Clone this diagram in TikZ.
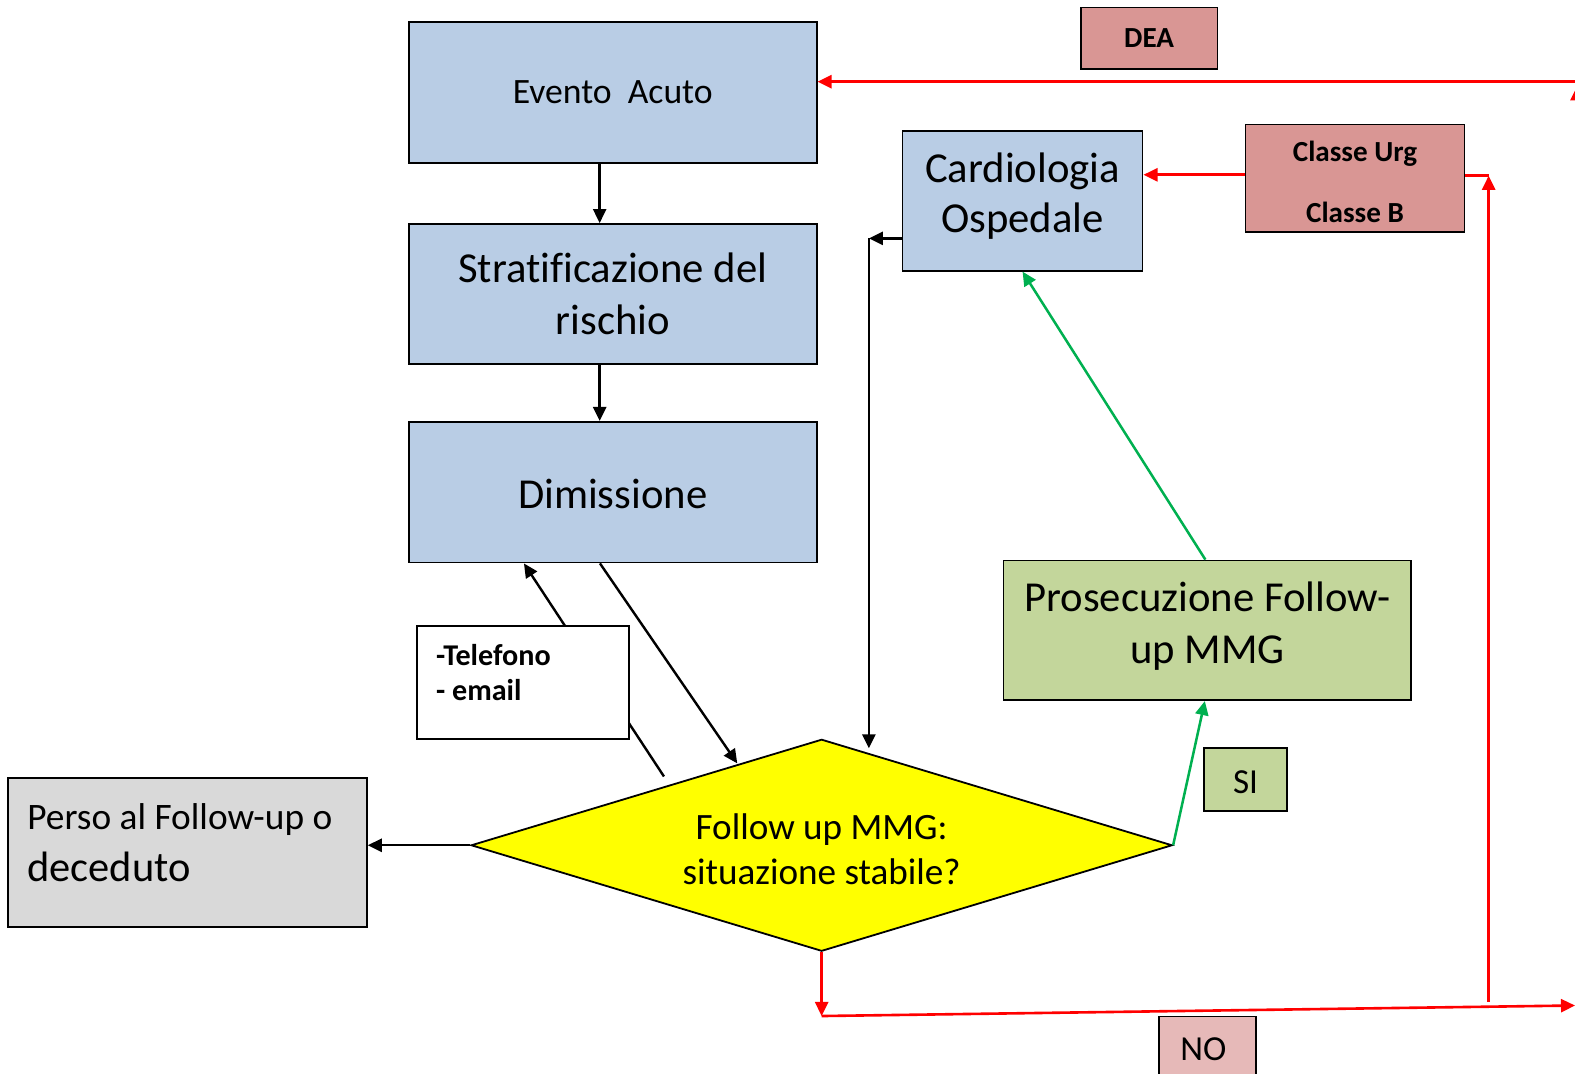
\documentclass[tikz,border=0pt]{standalone}
\usepackage{fontspec}
\setmainfont{Carlito}[Ligatures=CommonOff]
\usetikzlibrary{arrows.meta,shapes.geometric,calc}
\definecolor{blueF}{HTML}{B9CDE5}
\definecolor{pinkF}{HTML}{D99694}
\definecolor{noF}{HTML}{E6B9B8}
\definecolor{greenF}{HTML}{C3D69B}
\definecolor{greyF}{HTML}{D9D9D9}
\definecolor{yelF}{HTML}{FFFF00}
\definecolor{lineG}{HTML}{00B050}
\definecolor{lineR}{HTML}{FF0000}
\begin{document}
\begin{tikzpicture}[x=1pt,y=-1pt,
  box/.style={draw=black,line width=1.8pt,rectangle,inner sep=0pt,align=center},
  bluebox/.style={box,fill=blueF},
  pinkbox/.style={box,fill=pinkF},
  greenbox/.style={box,fill=greenF},
  bigtxt/.style={font=\fontsize{42.5}{51}\selectfont,align=center},
  midtxt/.style={font=\fontsize{35.5}{44}\selectfont},
  boldtxt/.style={font=\bfseries\fontsize{29}{34}\selectfont},
  tip/.style={-{Triangle[length=14pt,width=13pt]}},
  blk/.style={draw=black,line width=2.4pt,tip},
  redc/.style={draw=lineR,line width=2.6pt,tip},
  redl/.style={draw=lineR,line width=2.6pt},
  grn/.style={draw=lineG,line width=2.5pt,tip}
]
\useasboundingbox (0,0) rectangle (1568,1069);

% main column
\node[bluebox,minimum width=406,minimum height=140,midtxt] (ev) at (610,92) {Evento~ Acuto};
\node[bluebox,minimum width=406,minimum height=139,bigtxt] (st) at (610,292.5) {Stratificazione del\\rischio};
\node[bluebox,minimum width=406,minimum height=140] (dim) at (610,490) {};
\node[bigtxt] (dimt) at ([yshift=-2pt]dim.center) {Dimissione};

% right part
\node[bluebox,minimum width=239,minimum height=139] (card) at (1018,200) {};
\node[font=\fontsize{42.5}{50}\selectfont,align=center] (cardt) at ([yshift=5pt]card.center) {Cardiologia\\Ospedale};
\node[pinkbox,minimum width=136,minimum height=61,boldtxt] (dea) at (1144,38) {DEA};
\node[pinkbox,minimum width=218,minimum height=107] (cl) at (1349,177.5) {};
\node[boldtxt,anchor=base] (cl1) at (1349,160.3) {Classe Urg};
\node[boldtxt,anchor=base] (cl2) at (1349,221.5) {Classe B};
\node[greenbox,minimum width=406,minimum height=139] (pros) at (1202,627.5) {};
\node[font=\fontsize{42.5}{52}\selectfont,align=center] (prost) at ([yshift=4pt]pros.center) {Prosecuzione Follow-\\up MMG};
\node[greenbox,minimum width=82,minimum height=62] (si) at (1240,776) {};
\node[font=\fontsize{35}{40}\selectfont] (sit) at ([yshift=-3pt]si.center) {SI};
\node[box,fill=noF,minimum width=96,minimum height=66] (no) at (1202,1045) {};
\node[font=\fontsize{35}{40}\selectfont] (not) at ([xshift=-4pt]no.center) {NO};

% decision
\node[diamond,draw=black,line width=1.8pt,fill=yelF,inner sep=0pt,shape aspect=3.3,
      minimum width=698,minimum height=211] (dia) at (818,841.5) {};
\node[font=\fontsize{37}{44}\selectfont,align=center] (diat) at ([yshift=-4pt]dia.center) {Follow up MMG:\\situazione stabile?};

% lost / dead
\node[box,fill=greyF,minimum width=357,minimum height=148] (perso) at (186.7,848.7) {};
\node[anchor=base west,font=\fontsize{37.2}{44}\selectfont,inner sep=0pt] (p1) at (27,826) {Perso al Follow-up o};
\node[anchor=base west,font=\fontsize{42.3}{50}\selectfont,inner sep=0pt] (p2) at (27,877.5) {deceduto};

% black connectors
\draw[blk] ([xshift=-13pt]ev.south) -- ([xshift=-13pt]st.north);
\draw[blk] ([xshift=-13pt]st.south) -- ([xshift=-13pt]dim.north);
\coordinate (dtip) at (734,760);
\draw[blk] ([xshift=-12.7pt]dim.south) -- (dtip);
\coordinate (telstart) at (661,773);
\draw[blk] (telstart) -- ([xshift=-88.4pt]dim.south);

% telefono box (covers the line)
\node[box,fill=white,minimum width=211,minimum height=112] (tel) at (520.3,679.3) {};
\node[anchor=base west,font=\bfseries\fontsize{30}{34}\selectfont,inner sep=0pt] (t1) at (434,663) {-Telefono};
\node[anchor=base west,font=\bfseries\fontsize{30}{34}\selectfont,inner sep=0pt] (t2) at (434,697) {- email};

\draw[blk] (dia.west) -- (dia.west -| perso.east);

\coordinate (c1) at (865,237.3);
\coordinate (c2) at (865,745);
\draw[blk] (card.west |- c1) -- (c1);
\draw[blk] (c1) -- (c2);

% green connectors
\draw[grn] ([xshift=-2pt]pros.north) -- (card.south);
\draw[grn] (dia.east) -- ([xshift=-2.5pt]pros.south);

% red connectors
\coordinate (r1) at (818,1011.5);
\coordinate (r2) at (1568,1001);
\coordinate (rv0) at (1482,997.5);
\coordinate (rv1) at (1482,175);
\coordinate (ry) at (0,174);
\draw[redc] (dia.south) -- (r1);
\draw[redc] (r1) -- (r2);
\draw[redc] (rv0) -- (rv1);
\draw[redl] (cl.east |- rv1) -- (rv1);
\draw[redc] (cl.west |- ry) -- (card.east |- ry);
\coordinate (rt) at (1570,81.3);
\coordinate (re0) at (1570,1001);
\coordinate (re1) at (1570,86);
\draw[redc] (rt) -- (rt -| ev.east);
\draw[redc] (re0) -- (re1);
\end{tikzpicture}
\end{document}
